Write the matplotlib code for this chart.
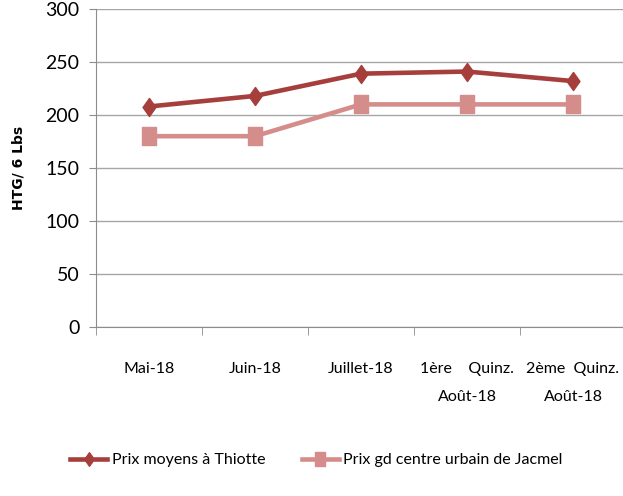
import matplotlib.pyplot as plt
from matplotlib.ticker import FixedLocator
from matplotlib.path import Path

plt.rcParams['font.family'] = ['Lato', 'DejaVu Sans']

periodes = ["Mai-18", "Juin-18", "Juillet-18", "1ère    Quinz.\nAoût-18", "2ème  Quinz.\nAoût-18"]
thiotte = [208, 218, 239, 241, 232]
jacmel = [180, 180, 210, 210, 210]

# tall markers (picture is squeezed horizontally)
losange = Path([(0, 1.4), (1, 0), (0, -1.4), (-1, 0), (0, 1.4)],
               [Path.MOVETO, Path.LINETO, Path.LINETO, Path.LINETO, Path.CLOSEPOLY])
carre = Path([(-1, -1.35), (1, -1.35), (1, 1.35), (-1, 1.35), (-1, -1.35)],
             [Path.MOVETO, Path.LINETO, Path.LINETO, Path.LINETO, Path.CLOSEPOLY])

fig = plt.figure(figsize=(6.23, 4.96), dpi=100)
ax = fig.add_axes([96/623, 1-327/496, 530/623, 318/496])

x = range(len(periodes))
ax.plot(x, thiotte, color='#A63F3C', lw=3.3, marker=losange, ms=13, label="Prix moyens à Thiotte", zorder=3)
ax.plot(x, jacmel, color='#D48D8B', lw=3.3, marker=carre, ms=13.5, label="Prix gd centre urbain de Jacmel", zorder=3)

ax.set_xlim(-0.5, 4.5)
ax.set_ylim(0, 300)
ax.set_yticks(range(0, 301, 50))
ax.yaxis.grid(True, color='#A6A6A6', lw=1)
ax.set_axisbelow(True)

ax.set_xticks(list(x))
ax.set_xticklabels(periodes, fontsize=11.5, linespacing=2.3)
ax.xaxis.set_minor_locator(FixedLocator([-0.5, 0.5, 1.5, 2.5, 3.5, 4.5]))
ax.tick_params(axis='x', which='major', length=0, pad=25)
ax.tick_params(axis='x', which='minor', length=6, color='#8C8C8C')
ax.tick_params(axis='y', length=5, color='#8C8C8C', labelsize=14, pad=7)

for s in ['top', 'right']:
    ax.spines[s].set_visible(False)
ax.spines['left'].set_color('#8C8C8C')
ax.spines['bottom'].set_color('#8C8C8C')

ax.set_ylabel("HTG/ 6 Lbs", fontsize=10, fontweight='bold', family='DejaVu Sans', labelpad=14)

fig.legend(loc='center', bbox_to_anchor=(0.508, 1-460/496), ncol=2, frameon=False,
           fontsize=11.5, handlelength=2.3, handletextpad=0.3, columnspacing=2.3,
           markerscale=0.75)

fig.savefig('out.png', dpi=100)
